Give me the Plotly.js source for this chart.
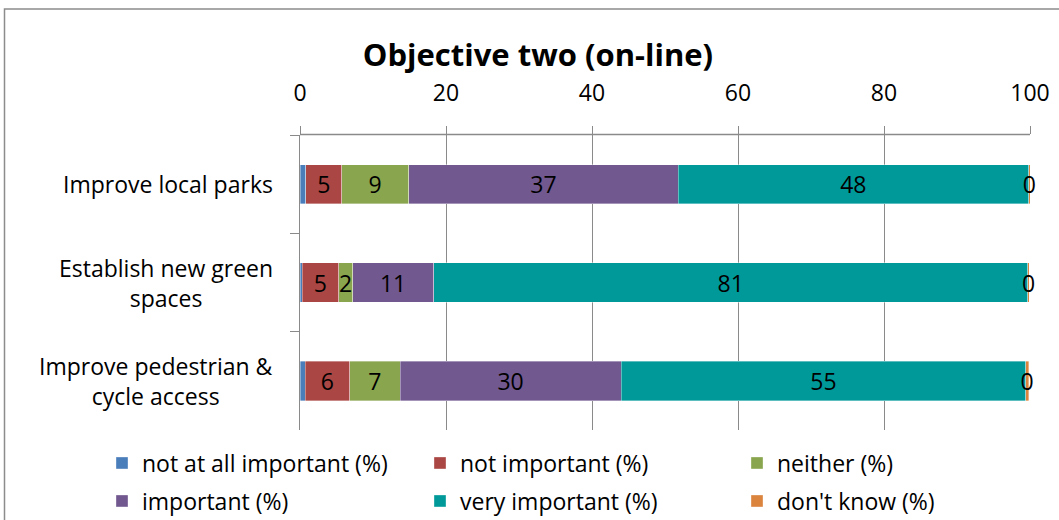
<!DOCTYPE html>
<html>
<head>
<meta charset="utf-8">
<script src="https://cdn.plot.ly/plotly-3.0.1.min.js"></script>
<style>
  html, body { margin: 0; padding: 0; background: #fff; }
  #chart { width: 1059px; height: 520px; }
</style>
</head>
<body>
<div id="chart"></div>
<script>
// Survey responses, percent of respondents per objective
const categories = ['Improve local parks', 'Establish new green spaces', 'Improve pedestrian & cycle access'];
const categoryLabels = ['Improve local parks', 'Establish new green<br>spaces', 'Improve pedestrian &<br>cycle access'];

const notAtAllImportant = [0.8, 0.3, 0.7];
const notImportant      = [4.9, 5.0, 6.1];
const neither           = [9.2, 1.9, 6.9];
const important         = [36.9, 11.1, 30.3];
const veryImportant     = [48.0, 81.4, 55.4];
const dontKnow          = [0.2, 0.2, 0.4];

const seriesNames = ['not at all important (%)', 'not important (%)', 'neither (%)',
                     'important (%)', 'very important (%)', "don't know (%)"];
const xTicks = [0, 20, 40, 60, 80, 100];

const FONT = '"Open Sans", Lato, sans-serif';
const TEXT_SIZE = 23;
const axisGrey = '#8a8a8a';

function series(values, name, color, showText, legendId, clip) {
  return {
    type: 'bar',
    orientation: 'h',
    y: categories,
    x: values,
    name: name,
    legend: legendId,
    marker: { color: color, line: { color: 'rgba(255,255,255,0.45)', width: 0.8 } },
    texttemplate: showText ? '%{x:.0f}' : '',
    textposition: 'inside',
    insidetextanchor: 'middle',
    constraintext: 'none',
    textfont: { family: FONT, size: TEXT_SIZE, color: '#000' },
    cliponaxis: clip,
    hoverinfo: 'name+x'
  };
}

const data = [
  series(notAtAllImportant, seriesNames[0], '#4a7ebb', false, 'legend',  true),
  series(notImportant,      seriesNames[1], '#aa4643', true,  'legend2', true),
  series(neither,           seriesNames[2], '#89a54e', true,  'legend3', true),
  series(important,         seriesNames[3], '#71588f', true,  'legend4', true),
  series(veryImportant,     seriesNames[4], '#009999', true,  'legend5', true),
  series(dontKnow,          seriesNames[5], '#db843d', true,  'legend6', false)
];

// category labels, centred line by line, left of the axis
const annotations = categories.map((c, i) => ({
  xref: 'paper', yref: 'y',
  x: -0.034, y: c,
  xanchor: 'right', yanchor: 'middle',
  text: categoryLabels[i],
  align: 'center',
  showarrow: false,
  font: { family: FONT, size: TEXT_SIZE, color: '#000' }
}));

// legend: three columns by two rows
function legendAt(xPx, yPx) {
  return {
    visible: true,
    orientation: 'h',
    xanchor: 'left',
    yanchor: 'middle',
    x: (xPx - 300) / 730,
    y: (430 - yPx) / 295,
    itemwidth: 30,
    font: { family: FONT, size: TEXT_SIZE, color: '#000' },
    bgcolor: 'rgba(0,0,0,0)'
  };
}

const layout = {
  width: 1059,
  height: 520,
  margin: { l: 300, r: 29, t: 135, b: 90, autoexpand: false },
  paper_bgcolor: '#fff',
  plot_bgcolor: '#fff',
  showlegend: true,
  font: { family: FONT, size: TEXT_SIZE, color: '#000' },
  title: {
    text: '<b>Objective two (on-line)</b>',
    font: { family: FONT, size: 31, color: '#000' },
    xref: 'container', yref: 'container',
    x: 0.508, xanchor: 'center',
    y: 1 - 55 / 520, yanchor: 'middle'
  },
  barmode: 'stack',
  bargap: 0.6,
  xaxis: {
    side: 'top',
    range: [0, 100],
    tickvals: xTicks,
    ticktext: xTicks.map(String),
    ticks: 'outside',
    ticklen: 8,
    tickcolor: axisGrey,
    ticklabelstandoff: 16,
    showgrid: true,
    gridcolor: axisGrey,
    gridwidth: 1,
    showline: false,
    zeroline: false,
    tickfont: { family: FONT, size: TEXT_SIZE, color: '#000' },
    fixedrange: true
  },
  yaxis: {
    type: 'category',
    categoryorder: 'array',
    categoryarray: categories,
    autorange: 'reversed',
    showticklabels: false,
    ticks: 'outside',
    tickson: 'boundaries',
    ticklen: 9,
    tickcolor: axisGrey,
    showgrid: false,
    showline: true,
    linecolor: axisGrey,
    linewidth: 1.3,
    zeroline: false,
    fixedrange: true
  },
  legend:  legendAt(102, 463),
  legend2: legendAt(420, 463),
  legend3: legendAt(737, 463),
  legend4: legendAt(102, 501),
  legend5: legendAt(420, 501),
  legend6: legendAt(737, 501),
  annotations: annotations,
  shapes: [
    // outer chart frame
    {
      type: 'rect', xref: 'paper', yref: 'paper',
      x0: (4.5 - 300) / 730, x1: (1080 - 300) / 730,
      y0: (430 - 540) / 295, y1: (430 - 9) / 295,
      line: { color: '#8c8c8c', width: 1.5 },
      fillcolor: 'rgba(0,0,0,0)',
      layer: 'below'
    },
    // value-axis line along the top of the plot area
    {
      type: 'line', xref: 'paper', yref: 'paper',
      x0: 0, x1: 1, y0: 1.002, y1: 1.002,
      line: { color: axisGrey, width: 1.5 },
      layer: 'above'
    }
  ]
};

Plotly.newPlot('chart', data, layout, { displayModeBar: false, responsive: false });
</script>
</body>
</html>
